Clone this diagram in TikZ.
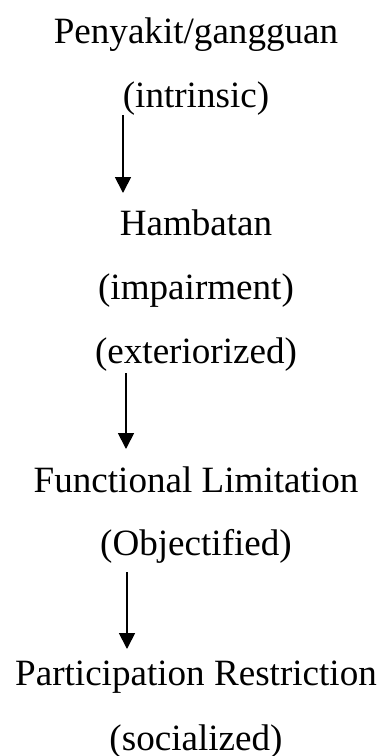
\documentclass[tikz,border=0pt]{standalone}
\usepackage{fontspec}
\setmainfont{Liberation Serif}
\usetikzlibrary{arrows.meta}
\begin{document}
\begin{tikzpicture}[x=1pt,y=-1pt,
  txt/.style={anchor=base,inner sep=0pt,font=\fontsize{37.1}{44}\selectfont},
  arr/.style={line width=1.8pt,-{Triangle[width=16pt,length=16pt]}}]
\useasboundingbox (0,0) rectangle (383,756);
\node[txt] (pen) at (196,43) {Penyakit/gangguan};
\node[txt] (intr) at (196,107) {(intrinsic)};
\node[txt] (hamb) at (196,235) {Hambatan};
\node[txt] (imp) at (196,299) {(impairment)};
\node[txt] (ext) at (196,363) {(exteriorized)};
\node[txt] (func) at (196,492) {Functional Limitation};
\node[txt] (obj) at (196,555) {(Objectified)};
\node[txt] (part) at (196,685) {Participation Restriction};
\node[txt] (soc) at (196,750) {(socialized)};
\draw[arr] ([xshift=-73pt,yshift=-8pt]intr.base) -- ([xshift=-73pt,yshift=42pt]hamb.base);
\draw[arr] ([xshift=-70pt,yshift=-10pt]ext.base) -- ([xshift=-70pt,yshift=43pt]func.base);
\draw[arr] ([xshift=-69pt,yshift=-17pt]obj.base) -- ([xshift=-69pt,yshift=36pt]part.base);
\end{tikzpicture}
\end{document}
